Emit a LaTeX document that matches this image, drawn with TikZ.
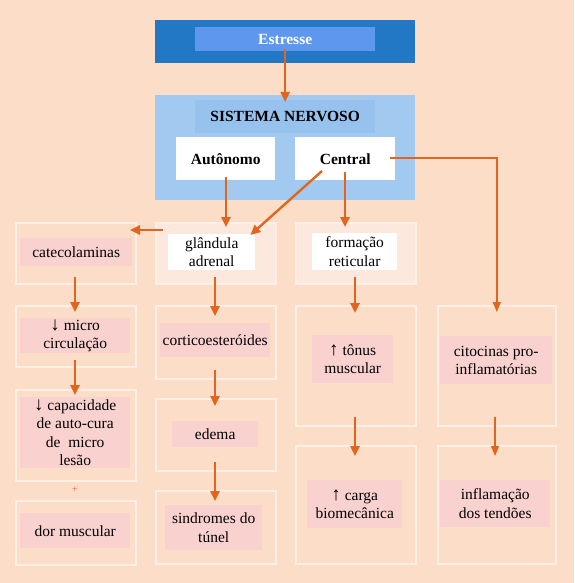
\documentclass[tikz,border=0pt]{standalone}
\usepackage{fontspec}
\setmainfont{Liberation Serif}
\usetikzlibrary{arrows.meta}
\definecolor{bg}{HTML}{FCDDC8}
\definecolor{dblue}{HTML}{2278C4}
\definecolor{mblue}{HTML}{5E98EE}
\definecolor{lblue}{HTML}{A2CAF0}
\definecolor{lblue2}{HTML}{98C2EE}
\definecolor{orng}{HTML}{E2651F}
\definecolor{pinkc}{HTML}{F9D2D0}
\definecolor{frm}{HTML}{FFEFE6}
\definecolor{lfill}{HTML}{FDE8DD}
\newcommand\tbox[7]{\node[#1,anchor=north west,inner sep=0pt,align=center,
  minimum width={(#5-#3)*1pt},minimum height={(#6-#4)*1pt}] (#2) at (#3,#4) {#7};}
\newcommand\dnar{{\fontsize{19}{18}\selectfont ↓}}
\newcommand\upar{{\fontsize{19}{18}\selectfont ↑}}
\begin{document}
\begin{tikzpicture}[x=1pt,y=-1pt,
  every node/.style={font=\fontsize{15.5}{18.5}\selectfont},
  outer/.style={draw=frm,line width=1.6pt,fill=bg},
  outerl/.style={draw=frm,line width=1.6pt,fill=lfill},
  inner/.style={fill=pinkc},
  whitebox/.style={fill=white},
  arr/.style={draw=orng,line width=2.4pt,-{Triangle[width=9pt,length=10pt]}},
  arrthin/.style={draw=orng,line width=1.4pt,-{Triangle[width=8pt,length=10pt]}}]
\fill[bg] (0,0) rectangle (574,583);
\useasboundingbox (0,0) rectangle (574,583);
% top
\tbox{fill=dblue}{fEst}{155}{20}{415}{63}{}
\tbox{fill=mblue,text=white,font=\fontsize{15.5}{18.5}\selectfont\bfseries}{est}{195}{27}{375}{51}{Estresse}
\tbox{fill=lblue}{sn}{155}{95}{415}{200}{}
\tbox{fill=lblue2,font=\fontsize{15.5}{18.5}\selectfont\bfseries}{snt}{195}{100}{375}{133}{SISTEMA NERVOSO}
\tbox{whitebox,font=\fontsize{15.5}{18.5}\selectfont\bfseries}{aut}{176}{137}{275}{180}{Autônomo}
\tbox{whitebox,font=\fontsize{15.5}{18.5}\selectfont\bfseries}{cen}{295}{137}{395}{180}{Central}
% row 2
\tbox{outer}{fCat}{15}{222}{135}{283}{}
\tbox{inner}{cat}{20}{238}{132}{266}{catecolaminas}
\tbox{outerl}{fGla}{155}{222}{275}{283}{}
\tbox{whitebox}{gla}{168}{234}{255}{270}{glândula\\adrenal}
\tbox{outerl}{fFor}{295}{222}{415}{283}{}
\tbox{whitebox}{for}{312}{233}{397}{270}{formação\\reticular}
% row 3
\tbox{outer}{fMic}{15}{305}{135}{366}{}
\tbox{inner}{mic}{20}{318}{130}{353}{\dnar\ micro\\circulação}
\tbox{outer}{fCor}{155}{305}{275}{378}{}
\tbox{inner}{cor}{160}{323}{270}{357}{corticoesteróides}
\tbox{outer}{fTon}{295}{305}{415}{425}{}
\tbox{inner}{ton}{312}{335}{393}{383}{\upar\ tônus\\muscular}
\tbox{outer}{fCit}{437}{305}{555}{425}{}
\tbox{inner}{cit}{440}{336}{552}{384}{citocinas pro-\\inflamatórias}
% row 4
\tbox{outer}{fCap}{15}{389}{135}{480}{}
\tbox{inner}{cap}{20}{397}{130}{468}{\dnar\ capacidade\\de auto-cura\\de\ \ micro\\lesão}
\tbox{outer}{fEde}{155}{398}{275}{470}{}
\tbox{inner}{ede}{172}{421}{258}{447}{edema}
\tbox{outer}{fCar}{295}{445}{415}{563}{}
\tbox{inner}{car}{307}{480}{402}{528}{\upar\ carga\\biomecânica}
\tbox{outer}{fInf}{437}{445}{555}{563}{}
\tbox{inner}{inf}{440}{480}{550}{527}{inflamação\\dos tendões}
% row 5
\tbox{outer}{fDor}{15}{500}{135}{564}{}
\tbox{inner}{dor}{20}{513}{130}{548}{dor muscular}
\tbox{outer}{fSin}{155}{490}{275}{563}{}
\tbox{inner}{sin}{165}{505}{262}{550}{sindromes do\\túnel}
\node[text=orng,font=\fontsize{10}{10}\selectfont] (plus) at (75,490) {+};
% arrows
\draw[arr] ([yshift=2pt]est.south) -- ([yshift=-7pt]sn.north);
\coordinate (autS) at (226,177);
\coordinate (cenA) at (322,171);
\coordinate (cenB) at (345,172);
\coordinate (cenR) at (390,158);
\draw[arr] (autS) -- (autS |- 0,227);
\draw[arr] (cenA) -- ([xshift=-5pt,yshift=-1pt]gla.north east);
\draw[arr] (cenB) -- (cenB |- 0,227);
\draw[arrthin] (cenR) -| ([yshift=-7pt]fCit.north);
\draw[arr] (fGla.west |- 0,230) ++(8,0) -- (130,230);
\draw[arr] ([yshift=8pt]fCat.south -| 75,0) -- (75,312);
\draw[arr] ([yshift=8pt]fMic.south -| 75,0) -- (75,395);
\draw[arr] (fGla.south -| 215,0) ++(0,-8) -- (215,316);
\draw[arr] (fCor.south -| 215,0) ++(0,-10) -- (215,406);
\draw[arr] (fEde.south -| 215,0) ++(0,-10) -- (215,501);
\draw[arr] (fFor.south -| 355,0) ++(0,-8) -- (355,313);
\draw[arr] (fTon.south -| 355,0) ++(0,-10) -- (355,456);
\draw[arrthin] (fCit.south -| 495,0) ++(0,-10) -- (495,456);
\end{tikzpicture}
\end{document}
